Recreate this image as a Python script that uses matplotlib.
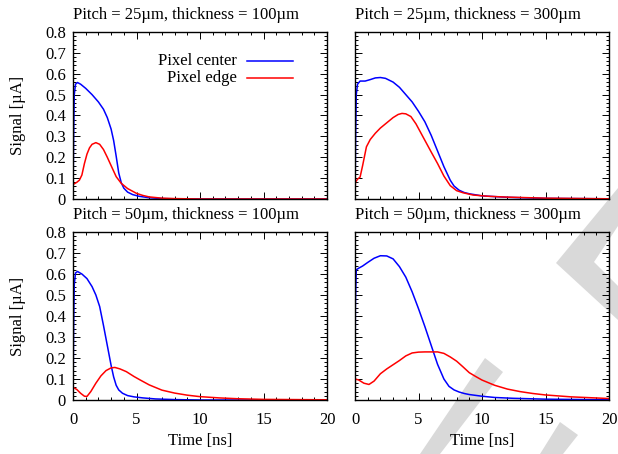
import matplotlib
matplotlib.use("Agg")
import matplotlib.pyplot as plt
from matplotlib.patches import Polygon
from matplotlib.ticker import MultipleLocator

plt.rcParams['font.family'] = ['Liberation Serif', 'DejaVu Serif']
plt.rcParams['font.size'] = 12

# ---------------- data ----------------
titles = ["Pitch = 25µm, thickness = 100µm", "Pitch = 25µm, thickness = 300µm",
          "Pitch = 50µm, thickness = 100µm", "Pitch = 50µm, thickness = 300µm"]
legend_labels = ["Pixel center", "Pixel edge"]

# top-left: 25um / 100um
tl_center_t = [0, 0.05, 0.1, 0.2, 0.35, 0.6, 1.0, 1.5, 2.0, 2.4, 2.7, 3.0, 3.2, 3.4, 3.6, 3.8, 4.0, 4.3, 4.7, 5.2, 6.0, 7.0, 8, 10, 20]
tl_center_v = [0, 0.30, 0.50, 0.55, 0.558, 0.55, 0.53, 0.50, 0.465, 0.43, 0.39, 0.335, 0.28, 0.205, 0.125, 0.078, 0.052, 0.033, 0.021, 0.013, 0.006, 0.002, 0.001, 0, 0]
tl_edge_t = [0, 0.02, 0.3, 0.5, 0.7, 0.9, 1.1, 1.3, 1.5, 1.8, 2.1, 2.4, 2.7, 3.0, 3.4, 3.8, 4.3, 5.0, 5.5, 6.0, 7.0, 8.0, 10, 20]
tl_edge_v = [0, 0.07, 0.08, 0.09, 0.115, 0.17, 0.215, 0.245, 0.262, 0.27, 0.262, 0.237, 0.20, 0.16, 0.107, 0.075, 0.05, 0.027, 0.017, 0.01, 0.004, 0.002, 0, 0]

# top-right: 25um / 300um
tr_center_t = [0, 0.05, 0.1, 0.2, 0.4, 0.8, 1.2, 1.6, 2.0, 2.4, 3.0, 3.5, 4.0, 4.5, 5.0, 5.5, 6.0, 6.5, 7.0, 7.5, 7.8, 8.2, 8.6, 9.0, 10, 12, 15, 20]
tr_center_v = [0, 0.30, 0.50, 0.55, 0.565, 0.565, 0.572, 0.58, 0.582, 0.578, 0.56, 0.535, 0.50, 0.465, 0.42, 0.37, 0.305, 0.23, 0.155, 0.09, 0.062, 0.042, 0.031, 0.025, 0.015, 0.008, 0.003, 0.001]
tr_edge_t = [0, 0.03, 0.2, 0.4, 0.6, 0.9, 1.2, 1.6, 2.0, 2.5, 3.0, 3.4, 3.7, 4.0, 4.4, 4.8, 5.2, 5.6, 6.0, 6.5, 7.0, 7.5, 8.0, 8.5, 9.3, 10.5, 12, 15, 20]
tr_edge_v = [0, 0.08, 0.095, 0.105, 0.16, 0.25, 0.285, 0.315, 0.34, 0.365, 0.39, 0.405, 0.41, 0.408, 0.395, 0.36, 0.315, 0.27, 0.225, 0.17, 0.11, 0.064, 0.04, 0.03, 0.019, 0.013, 0.009, 0.004, 0.001]

# bottom-left: 50um / 100um
bl_center_t = [0, 0.05, 0.1, 0.2, 0.35, 0.7, 1.1, 1.5, 1.8, 2.1, 2.4, 2.7, 3.0, 3.2, 3.4, 3.6, 3.9, 4.3, 4.8, 5.5, 6.5, 8, 10, 20]
bl_center_v = [0, 0.35, 0.55, 0.605, 0.612, 0.60, 0.578, 0.54, 0.50, 0.445, 0.355, 0.26, 0.165, 0.11, 0.07, 0.048, 0.032, 0.021, 0.015, 0.01, 0.005, 0.002, 0, 0]
bl_edge_t = [0, 0.02, 0.3, 0.6, 0.9, 1.1, 1.4, 1.8, 2.2, 2.6, 3.0, 3.3, 3.7, 4.2, 4.8, 5.3, 6.0, 7.0, 8.0, 9.0, 10, 11.5, 13, 15, 20]
bl_edge_v = [0, 0.06, 0.05, 0.032, 0.018, 0.017, 0.04, 0.08, 0.115, 0.14, 0.153, 0.155, 0.148, 0.135, 0.112, 0.095, 0.072, 0.047, 0.033, 0.023, 0.016, 0.01, 0.006, 0.003, 0.001]

# bottom-right: 50um / 300um
br_center_t = [0, 0.03, 0.1, 0.3, 0.6, 1.0, 1.5, 2.0, 2.5, 3.0, 3.5, 4.0, 4.5, 5.0, 5.5, 6.0, 6.5, 7.0, 7.4, 7.8, 8.2, 8.6, 9.0, 10, 11, 12.5, 15, 20]
br_center_v = [0, 0.45, 0.62, 0.628, 0.638, 0.655, 0.675, 0.687, 0.686, 0.672, 0.635, 0.585, 0.515, 0.435, 0.35, 0.26, 0.17, 0.1, 0.065, 0.048, 0.038, 0.031, 0.026, 0.018, 0.012, 0.008, 0.004, 0.001]
br_edge_t = [0, 0.03, 0.3, 0.7, 1.1, 1.5, 2.0, 2.5, 3.0, 3.5, 4.0, 4.5, 5.0, 5.5, 6.0, 6.5, 7.0, 7.5, 8.0, 8.5, 9.0, 9.5, 10, 11, 12, 13, 14, 15, 17, 20]
br_edge_v = [0, 0.10, 0.095, 0.08, 0.074, 0.09, 0.125, 0.148, 0.168, 0.188, 0.21, 0.224, 0.228, 0.229, 0.229, 0.229, 0.222, 0.205, 0.185, 0.158, 0.13, 0.112, 0.095, 0.07, 0.052, 0.04, 0.031, 0.024, 0.015, 0.007]

panels = [
    (tl_center_t, tl_center_v, tl_edge_t, tl_edge_v),
    (tr_center_t, tr_center_v, tr_edge_t, tr_edge_v),
    (bl_center_t, bl_center_v, bl_edge_t, bl_edge_v),
    (br_center_t, br_center_v, br_edge_t, br_edge_v),
]

# ---------------- layout (pixels) ----------------
W, H = 618, 454
fig = plt.figure(figsize=(W / 100, H / 100), dpi=100)

# watermark decoration (pixel coords)
wm_stripe_a = [(485, 358), (503, 372), (440, 454), (420, 454)]
wm_stripe_b = [(560, 422), (578, 435), (563, 454), (540, 454)]
wm_chevron = [(556, 263), (618, 188), (618, 226), (594, 262), (618, 286), (618, 320)]
bg = fig.add_axes([0, 0, 1, 1], zorder=-10)
bg.set_xlim(0, W)
bg.set_ylim(H, 0)
bg.axis('off')
for poly in (wm_stripe_a, wm_stripe_b, wm_chevron):
    bg.add_patch(Polygon(poly, closed=True, facecolor='#d9d9d9', edgecolor='none'))

boxes = [(73, 32, 327, 199), (355, 32, 609, 199), (73, 232, 327, 400), (355, 232, 609, 400)]

for i, ((x0, y0, x1, y1), (ct, cv, et, ev)) in enumerate(zip(boxes, panels)):
    ax = fig.add_axes([x0 / W, 1 - y1 / H, (x1 - x0) / W, (y1 - y0) / H])
    ax.set_facecolor('none')
    ax.plot(ct, cv, color='#0000ff', lw=1.1, label=legend_labels[0])
    ax.plot(et, ev, color='#ff0000', lw=1.1, label=legend_labels[1])
    ax.set_xlim(0, 20)
    ax.set_ylim(0, 0.8)
    ax.xaxis.set_major_locator(MultipleLocator(5))
    ax.xaxis.set_minor_locator(MultipleLocator(1))
    ax.yaxis.set_major_locator(MultipleLocator(0.1))
    ax.yaxis.set_minor_locator(MultipleLocator(0.02))
    ax.yaxis.set_major_formatter(plt.FuncFormatter(lambda v, p: f"{v:.1f}".rstrip('0').rstrip('.') if abs(v) > 1e-9 else "0"))
    ax.tick_params(which='both', direction='in', top=True, right=True, width=0.7, labelsize=12)
    ax.tick_params(which='major', length=5)
    ax.tick_params(which='minor', length=2.5)
    ax.tick_params(axis='y', which='major', pad=5)
    ax.tick_params(axis='x', which='major', pad=8.5)
    for s in ax.spines.values():
        s.set_linewidth(1.0)
    ax.annotate(titles[i], xy=(0, 1), xycoords='axes fraction', xytext=(0, 12.5),
                textcoords='offset points', ha='left', va='center', fontsize=12)
    if i % 2 == 0:
        ax.set_ylabel('Signal [µA]', va='center')
        ax.yaxis.set_label_coords(-55 / 254, 0.5)
    else:
        ax.tick_params(labelleft=False)
    if i >= 2:
        ax.set_xlabel('Time [ns]', va='center')
        ax.xaxis.set_label_coords(0.5, -41 / 168)
    else:
        ax.tick_params(labelbottom=False)
    if i == 0:
        for k, (lab, col) in enumerate(zip(legend_labels, ['#0000ff', '#ff0000'])):
            yy = 0.826 - k * 0.101
            ax.text(0.646, yy, lab, transform=ax.transAxes, ha='right', va='center', fontsize=12)
            ax.plot([0.685, 0.866], [yy, yy], transform=ax.transAxes, color=col, lw=1.1)

fig.savefig('out.png', dpi=100)
